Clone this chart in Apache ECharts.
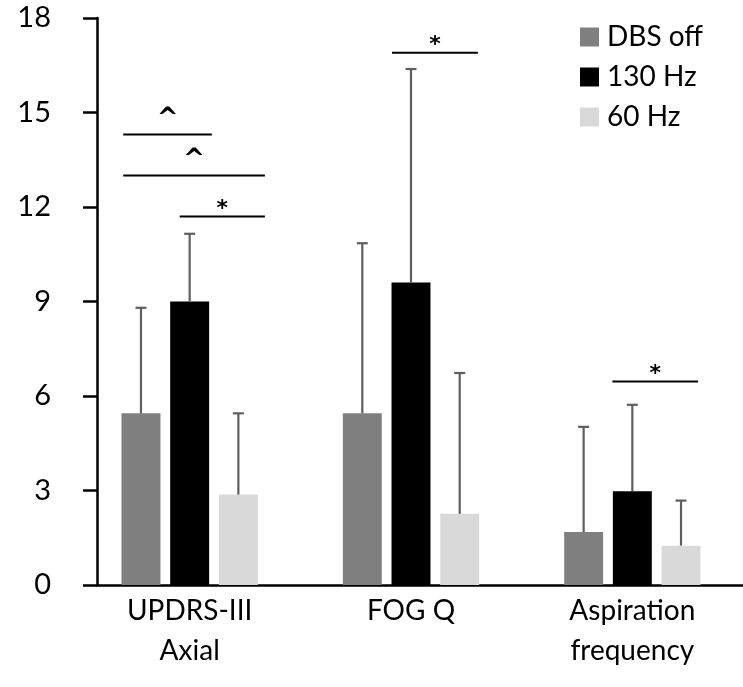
<!DOCTYPE html>
<html>
<head>
<meta charset="utf-8">
<script src="https://cdn.jsdelivr.net/npm/echarts@6/dist/echarts.min.js"></script>
<style>html,body{margin:0;padding:0;background:#fff;}#c{width:743px;height:687px;}</style>
</head>
<body>
<div id="c"></div>
<script>
// ---- data ----
const categories = ['UPDRS-III\nAxial', 'FOG Q', 'Aspiration\nfrequency'];
const seriesNames = ['DBS off', '130 Hz', '60 Hz'];
const dbsOff = [5.45, 5.45, 1.68];
const hz130 = [9.0, 9.6, 2.98];
const hz60 = [2.87, 2.26, 1.25];
const dbsOffSD = [3.35, 5.4, 3.34];
const hz130SD = [2.15, 6.78, 2.74];
const hz60SD = [2.58, 4.47, 1.43];
const yTicks = [0, 3, 6, 9, 12, 15, 18];
// significance brackets
const sigCat = [0, 0, 0, 1, 2];
const sigFrom = [-0.30, -0.30, -0.045, -0.086, -0.09];
const sigTo = [0.10, 0.34, 0.34, 0.302, 0.297];
const sigY = [14.3, 13.0, 11.7, 16.9, 6.46];
const sigLabel = ['^', '^', '*', '*', '*'];

const colors = ['#7f7f7f', '#000000', '#d9d9d9'];
const BAR_FRAC = 0.176, BAR_GAP = 0.25;
const FONT = 'Lato, "Open Sans", sans-serif';

const means = [dbsOff, hz130, hz60];
const sds = [dbsOffSD, hz130SD, hz60SD];

const chart = echarts.init(document.getElementById('c'), null, {renderer: 'canvas'});

const barSeries = seriesNames.map((n, i) => ({
  name: n, type: 'bar', xAxisIndex: 1, yAxisIndex: 1,
  data: means[i], barWidth: (BAR_FRAC * 100) + '%', barGap: (BAR_GAP * 100) + '%',
  itemStyle: {color: colors[i]}, animation: false
}));

const errSeries = seriesNames.map((n, i) => ({
  type: 'custom', xAxisIndex: 1, yAxisIndex: 1, z: 5, animation: false, silent: true,
  data: means[i].map((v, k) => [k, v, sds[i][k]]),
  renderItem: function (params, api) {
    const cat = api.value(0), v = api.value(1), sd = api.value(2);
    const band = api.size([1, 0])[0];
    const bw = band * BAR_FRAC;
    const off = (i - 1) * bw * (1 + BAR_GAP);
    const p0 = api.coord([cat, v]);
    const p1 = api.coord([cat, v + sd]);
    const x = p0[0] + off;
    const st = {stroke: '#5f5f5f', lineWidth: 2.2};
    return {type: 'group', children: [
      {type: 'line', shape: {x1: x, y1: p0[1], x2: x, y2: p1[1]}, style: st},
      {type: 'line', shape: {x1: x - 5.5, y1: p1[1], x2: x + 5.5, y2: p1[1]}, style: st}
    ]};
  }
}));

const sigSeries = {
  type: 'custom', xAxisIndex: 1, yAxisIndex: 1, z: 6, animation: false, silent: true,
  data: sigCat.map((c, k) => [c, sigY[k], sigFrom[k], sigTo[k], k]),
  renderItem: function (params, api) {
    const cat = api.value(0), y = api.value(1), f = api.value(2), t = api.value(3), k = api.value(4);
    const band = api.size([1, 0])[0];
    const p = api.coord([cat, y]);
    const x1 = p[0] + f * band, x2 = p[0] + t * band;
    const isStar = sigLabel[k] === '*';
    const label = isStar
      ? {type: 'text', x: (x1 + x2) / 2, y: p[1] + 4,
         style: {text: sigLabel[k], fill: '#000', font: 'bold 22px "DejaVu Sans", sans-serif', align: 'center', verticalAlign: 'bottom'}}
      : {type: 'text', x: (x1 + x2) / 2, y: p[1] - 28,
         style: {text: sigLabel[k], fill: '#000', font: 'bold 26px "DejaVu Sans", sans-serif', align: 'center', verticalAlign: 'top'}};
    return {type: 'group', children: [
      {type: 'line', shape: {x1: x1, y1: p[1], x2: x2, y2: p[1]}, style: {stroke: '#000', lineWidth: 2}},
      label
    ]};
  }
};

chart.setOption({
  animation: false,
  backgroundColor: '#fff',
  legend: {
    data: seriesNames, orient: 'vertical', left: 575, top: 18,
    itemWidth: 19, itemHeight: 19, itemGap: 12, icon: 'rect',
    textStyle: {fontSize: 28, color: '#000', fontFamily: FONT, padding: [0, 0, 0, 3]}
  },
  grid: [
    {left: 97, right: 0, top: 18, bottom: 102},
    {left: 79, right: -2, top: 18, bottom: 102}
  ],
  xAxis: [
    {type: 'value', gridIndex: 0, min: 0, max: 1, axisLine: {show: true, onZero: false, lineStyle: {color: '#000', width: 2.5}},
     axisTick: {show: false}, axisLabel: {show: false}, splitLine: {show: false}},
    {type: 'category', gridIndex: 1, data: categories, axisLine: {show: false}, axisTick: {show: false},
     axisLabel: {fontSize: 28, lineHeight: 40, color: '#000', fontFamily: FONT, margin: 6, interval: 0}}
  ],
  yAxis: [
    {type: 'value', gridIndex: 0, min: yTicks[0], max: yTicks[yTicks.length - 1], interval: yTicks[1] - yTicks[0],
     axisLine: {show: true, lineStyle: {color: '#000', width: 2.5}},
     axisTick: {show: true, length: 14, lineStyle: {color: '#000', width: 2.5}},
     axisLabel: {fontSize: 29, color: '#000', fontFamily: FONT, margin: 46},
     splitLine: {show: false}},
    {type: 'value', gridIndex: 1, min: yTicks[0], max: yTicks[yTicks.length - 1], show: false, splitLine: {show: false}}
  ],
  series: [...barSeries, ...errSeries, sigSeries]
});
</script>
</body>
</html>
